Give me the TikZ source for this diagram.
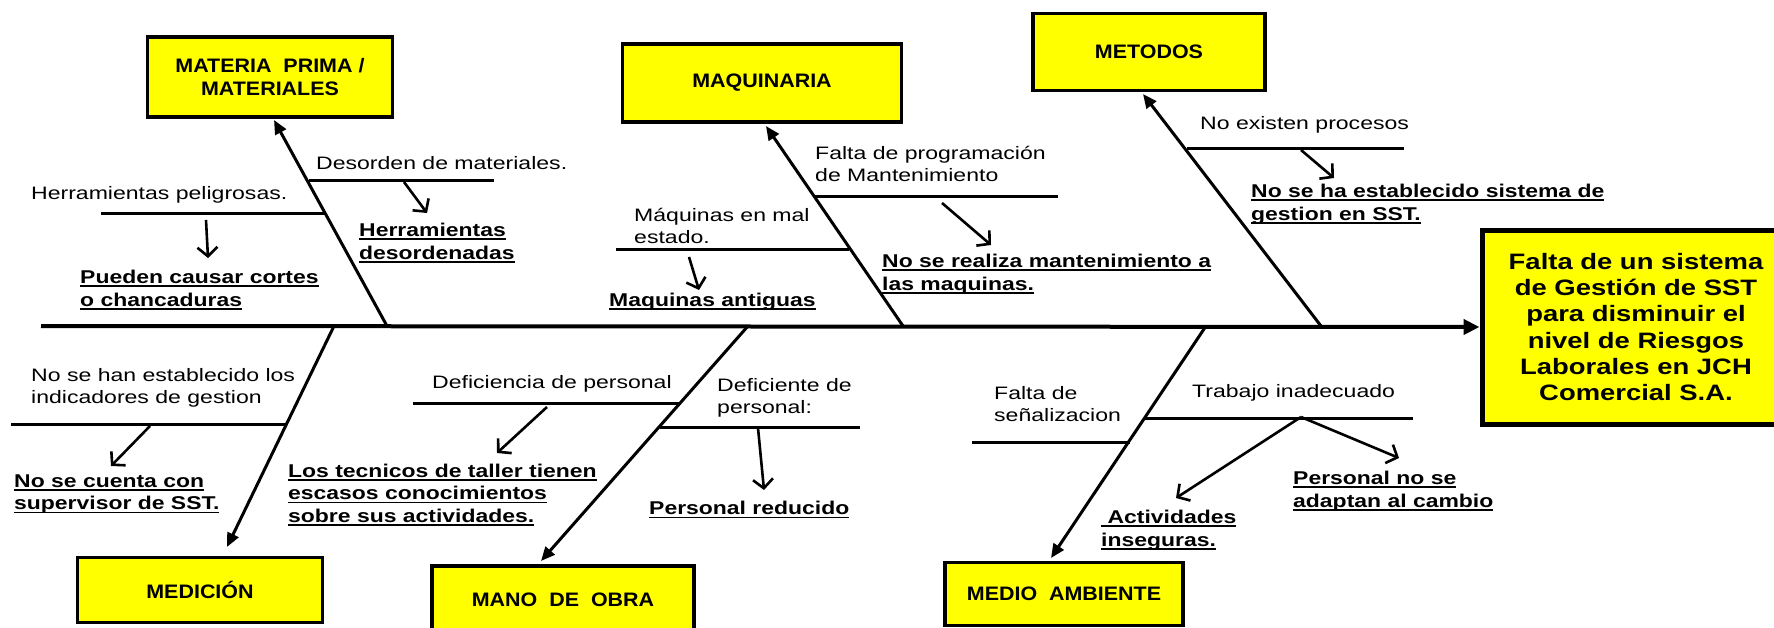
\documentclass[tikz,border=0pt]{standalone}
\usepackage{fontspec}
\usetikzlibrary{arrows.meta}
\newfontfamily\freg[FakeStretch=1.28]{Liberation Sans}
\newfontfamily\fbld[FakeStretch=1.24]{Liberation Sans}
\newfontfamily\fcat[FakeStretch=1.1]{Liberation Sans}
\newfontfamily\feff[FakeStretch=1.23]{Liberation Sans}
\newsavebox\ulbox
\newcommand\ulx[1]{\sbox\ulbox{#1}\rlap{\rule[-3.5pt]{\wd\ulbox}{1.8pt}}\usebox\ulbox}
\definecolor{boxyellow}{HTML}{FFFF00}
\begin{document}
\begin{tikzpicture}[x=1pt,y=-1pt,
  catbox/.style={draw=black, line width=3.5pt, fill=boxyellow, inner sep=0pt, align=center, font=\fcat\bfseries\fontsize{19.5}{23}\selectfont},
  effbox/.style={draw=black, line width=5pt, fill=boxyellow, inner sep=0pt, align=center, font=\feff\bfseries\fontsize{22.3}{26.2}\selectfont},
  cause/.style={anchor=west, inner sep=0pt, align=left, font=\freg\fontsize{18}{22}\selectfont},
  result/.style={anchor=west, inner sep=0pt, align=left, font=\fbld\bfseries\fontsize{18.5}{22.8}\selectfont},
  spine/.style={line width=4pt, -{Triangle[length=16pt,width=15pt]}},
  bone/.style={line width=3pt, -{Triangle[length=14pt,width=12pt]}},
  rib/.style={line width=3pt},
  pointer/.style={line width=2.6pt, -{Straight Barb[length=9pt,width=20pt]}},
]
\useasboundingbox (0,0) rectangle (1774,627);

% category boxes
\node[catbox, minimum width=245pt, minimum height=80pt] (mat) at (270,77) {MATERIA~ PRIMA /\\MATERIALES};
\node[catbox, minimum width=279pt, minimum height=78pt] (maq) at (762,83) {MAQUINARIA};
\node[catbox, minimum width=232pt, minimum height=77pt] (met) at (1149,52) {METODOS};
\node[catbox, minimum width=245pt, minimum height=65pt] (med) at (200,590) {MEDICIÓN};
\node[catbox, minimum width=262pt, minimum height=68pt] (mano) at (563,600) {MANO~ DE~ OBRA};
\node[catbox, minimum width=238pt, minimum height=63pt] (amb) at (1064,594) {MEDIO~ AMBIENTE};
\node[effbox, minimum width=308pt, minimum height=194pt] (eff) at (1636,327)
  {Falta de un sistema\\de Gestión de SST\\para disminuir el\\nivel de Riesgos\\Laborales en JCH\\Comercial S.A.};

% spine
\coordinate (tail) at (41,326);
\draw[spine] (tail) -- (eff.west);

% bones
\coordinate (b1) at (387,326);  \coordinate (e1) at (274,120);
\coordinate (b2) at (903,326);  \coordinate (e2) at (766,126);
\coordinate (b3) at (1321,326); \coordinate (e3) at (1143,94);
\coordinate (b4) at (334,326);  \coordinate (e4) at (227,547);
\coordinate (b5) at (748,326);  \coordinate (e5) at (541,561);
\coordinate (b6) at (1206,326); \coordinate (e6) at (1051,558);
\draw[bone] (b1) -- (e1);
\draw[bone] (b2) -- (e2);
\draw[bone] (b3) -- (e3);
\draw[bone] (b4) -- (e4);
\draw[bone] (b5) -- (e5);
\draw[bone] (b6) -- (e6);

% ribs
\coordinate (r1a) at (101,213);  \coordinate (r1b) at (325,213);
\coordinate (r2a) at (309,180);  \coordinate (r2b) at (494,180);
\coordinate (r3a) at (616,249);  \coordinate (r3b) at (849,249);
\coordinate (r4a) at (814,196);  \coordinate (r4b) at (1058,196);
\coordinate (r5a) at (1187,148); \coordinate (r5b) at (1404,148);
\coordinate (r6a) at (11,424);   \coordinate (r6b) at (287,424);
\coordinate (r7a) at (413,403);  \coordinate (r7b) at (681,403);
\coordinate (r8a) at (660,427);  \coordinate (r8b) at (860,427);
\coordinate (r9a) at (972,442);  \coordinate (r9b) at (1130,442);
\coordinate (r10a) at (1145,418); \coordinate (r10b) at (1413,418);
\foreach \r in {1,...,10} {\draw[rib] (r\r a) -- (r\r b);}

% cause texts
\node[cause] (c1) at (31,195) {Herramientas peligrosas.};
\node[cause] (c2) at (316,163) {Desorden de materiales.};
\node[cause] (c3) at (634,226) {Máquinas en mal\\estado.};
\node[cause] (c4) at (815,164) {Falta de programación\\de Mantenimiento};
\node[cause] (c5) at (1200,125) {No existen procesos};
\node[cause] (c6) at (31,388) {No se han establecido los\\indicadores de gestion};
\node[cause] (c7) at (432,384) {Deficiencia de personal};
\node[cause] (c8) at (717,398) {Deficiente de\\personal:};
\node[cause] (c9) at (994,404) {Falta de\\señalizacion};
\node[cause] (c10) at (1192,393) {Trabajo inadecuado};

% result texts
\node[result] (d1) at (80,290) {\ulx{Pueden causar cortes}\\\ulx{o chancaduras}};
\node[result] (d2) at (359,243) {\ulx{Herramientas}\\\ulx{desordenadas}};
\node[result] (d3) at (609,302) {\ulx{Maquinas antiguas}};
\node[result] (d4) at (882,274) {\ulx{No se realiza mantenimiento a}\\\ulx{las maquinas.}};
\node[result] (d5) at (1251,204) {\ulx{No se ha establecido sistema de}\\\ulx{gestion en SST.}};
\node[result] (d6) at (14,494) {\ulx{No se cuenta con}\\\ulx{supervisor de SST.}};
\node[result] (d7) at (288,495) {\ulx{Los tecnicos de taller tienen}\\\ulx{escasos conocimientos}\\\ulx{sobre sus actividades.}};
\node[result] (d8) at (649,510) {\ulx{Personal reducido}};
\node[result] (d9) at (1101,530) {\ulx{\ Actividades}\\\ulx{inseguras.}};
\node[result] (d10) at (1293,491) {\ulx{Personal no se}\\\ulx{adaptan al cambio}};

% pointers
\coordinate (p1a) at (206,220);  \coordinate (p1b) at (208,258);
\coordinate (p2a) at (404,182);  \coordinate (p2b) at (427,213);
\coordinate (p3a) at (689,257);  \coordinate (p3b) at (699,290);
\coordinate (p4a) at (942,203);  \coordinate (p4b) at (991,245);
\coordinate (p5a) at (1301,150); \coordinate (p5b) at (1334,178);
\coordinate (p6a) at (150,426);  \coordinate (p6b) at (111,466);
\coordinate (p7a) at (547,407);  \coordinate (p7b) at (497,453);
\coordinate (p8a) at (758,428);  \coordinate (p8b) at (764,490);
\coordinate (pj) at (1301,417);
\coordinate (p9b) at (1176,498); \coordinate (p10b) at (1399,458);
\draw[pointer] (p1a) -- (p1b);
\draw[pointer] (p2a) -- (p2b);
\draw[pointer] (p3a) -- (p3b);
\draw[pointer] (p4a) -- (p4b);
\draw[pointer] (p5a) -- (p5b);
\draw[pointer] (p6a) -- (p6b);
\draw[pointer] (p7a) -- (p7b);
\draw[pointer] (p8a) -- (p8b);
\draw[pointer] (pj) -- (p9b);
\draw[pointer] (pj) -- (p10b);
\end{tikzpicture}
\end{document}
